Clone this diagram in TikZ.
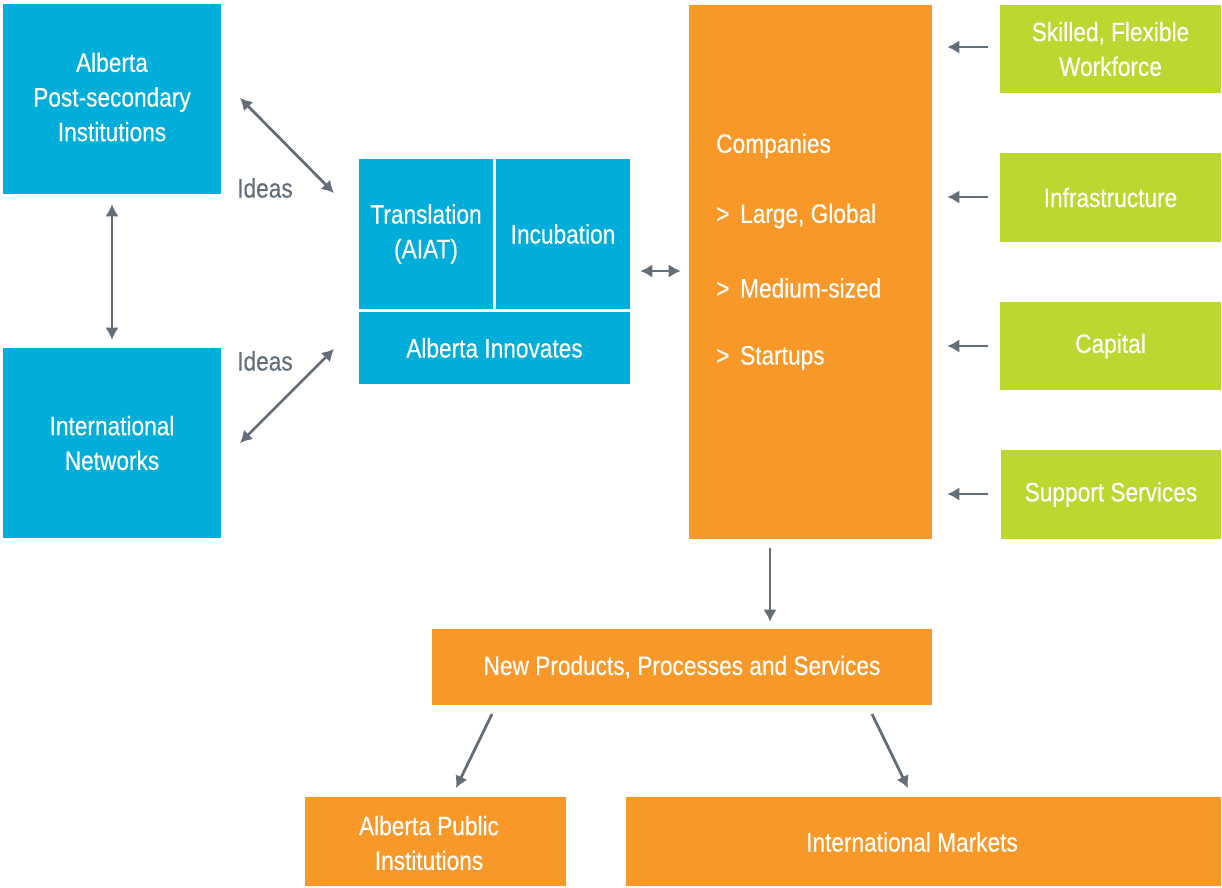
\documentclass[tikz,border=0pt]{standalone}
\usepackage{fontspec}
\setmainfont[FakeStretch=0.85,FakeBold=0.3]{Liberation Sans}
\usetikzlibrary{arrows.meta}
\definecolor{cblue}{RGB}{0,174,217}
\definecolor{corange}{RGB}{247,152,41}
\definecolor{cgreen}{RGB}{190,214,48}
\definecolor{cgray}{RGB}{100,110,120}
\tikzset{
  box/.style={inner sep=2pt, align=center, text=white, font=\fontsize{20}{26}\selectfont},
  bbox/.style={box, fill=cblue},
  obox/.style={box, fill=corange},
  gbox/.style={box, fill=cgreen},
  arr/.style={draw=cgray, line width=2.1pt, -{Latex[length=9pt,width=10pt]}},
  darr/.style={draw=cgray, line width=2.1pt, {Latex[length=9pt,width=10pt]}-{Latex[length=9pt,width=10pt]}},
  lbl/.style={text=cgray, font=\fontsize{20}{26}\selectfont},
  ctext/.style={anchor=west, text=white, font=\fontsize{20}{26}\selectfont, inner sep=0pt}
}
\begin{document}
\begin{tikzpicture}[x=0.75pt,y=-0.75pt]
\useasboundingbox (0,0) rectangle (1222,888);
% blue
\node[bbox, minimum width=218*.75pt, minimum height=190*.75pt] (aps) at (112,99) {};
\node[box] (apst) at (112,97) {Alberta\\Post-secondary\\Institutions};
\node[bbox, minimum width=218*.75pt, minimum height=190*.75pt] (intl) at (112,443) {International\\Networks};
\node[bbox, minimum width=134*.75pt, minimum height=150*.75pt] (trans) at (426,234) {Translation\\(AIAT)};
\node[bbox, minimum width=134*.75pt, minimum height=150*.75pt] (incub) at (563,234) {Incubation};
\node[bbox, minimum width=271*.75pt, minimum height=72*.75pt] (ai) at (494.5,348) {Alberta Innovates};
% companies
\node[obox, minimum width=243*.75pt, minimum height=534*.75pt] (comp) at (810.5,272) {};
\node[ctext] (c0) at (716,146) {Companies};
\node[ctext] (c1) at (716,216) {>\hspace{8pt}Large, Global};
\node[ctext] (c2) at (716,288) {>\hspace{8pt}Medium-sized};
\node[ctext] (c3) at (716,358) {>\hspace{8pt}Startups};
% green
\node[gbox, minimum width=221*.75pt, minimum height=88*.75pt] (g1) at (1110.5,49) {Skilled, Flexible\\Workforce};
\node[gbox, minimum width=221*.75pt, minimum height=89*.75pt] (g2) at (1110.5,197.5) {Infrastructure};
\node[gbox, minimum width=221*.75pt, minimum height=88*.75pt] (g3) at (1110.5,346) {Capital};
\node[gbox, minimum width=220*.75pt, minimum height=89*.75pt] (g4) at (1111,494.5) {Support Services};
% bottom
\node[obox, minimum width=500*.75pt, minimum height=76*.75pt] (np) at (682,667) {New Products, Processes and Services};
\node[obox, minimum width=261*.75pt, minimum height=89*.75pt] (apub) at (435.5,841.5) {};
\node[box] (apubt) at (429,843) {Alberta Public\\Institutions};
\node[obox, minimum width=595*.75pt, minimum height=89*.75pt] (im) at (923.5,841.5) {};
\node[box] (imt) at (912,842) {International Markets};
% labels
\node[lbl] (l1) at (265,188) {Ideas};
\node[lbl] (l2) at (265,361) {Ideas};
% arrow end points
\coordinate (a1s) at (240,98);
\coordinate (a1e) at (334,193);
\coordinate (a2s) at (240,443);
\coordinate (a2e) at (334,349);
\coordinate (b1s) at (492,714);
\coordinate (b1e) at (456,788);
\coordinate (b2s) at (872,714);
\coordinate (b2e) at (908,788);
% arrows
\draw[darr] (a1s) -- (a1e);
\draw[darr] (a2s) -- (a2e);
\draw[darr, shorten <=10*.75pt, shorten >=8*.75pt] (aps.south) -- (intl.north);
\draw[darr, shorten <=10*.75pt, shorten >=8*.75pt] (incub.east |- 0,271) -- (comp.west |- 0,271);
\draw[arr, shorten <=12*.75pt, shorten >=15*.75pt] (g1.west |- 0,47) -- (comp.east |- 0,47);
\draw[arr, shorten <=12*.75pt, shorten >=15*.75pt] (g2.west |- 0,197) -- (comp.east |- 0,197);
\draw[arr, shorten <=12*.75pt, shorten >=15*.75pt] (g3.west |- 0,346) -- (comp.east |- 0,346);
\draw[arr, shorten <=13*.75pt, shorten >=15*.75pt] (g4.west |- 0,494) -- (comp.east |- 0,494);
\draw[arr, shorten <=9*.75pt, shorten >=7*.75pt] (comp.south -| 770,0) -- (np.north -| 770,0);
\draw[arr] (b1s) -- (b1e);
\draw[arr] (b2s) -- (b2e);
\end{tikzpicture}
\end{document}
